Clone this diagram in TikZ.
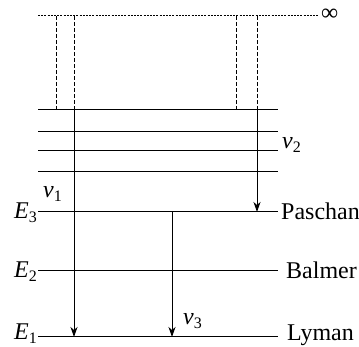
\documentclass[tikz,border=0pt]{standalone}
\usepackage{fontspec}
\setmainfont{Liberation Serif}
\usetikzlibrary{arrows.meta}
\newcommand{\lsub}[1]{\raisebox{-0.3ex}{\fontsize{16}{17}\selectfont #1}}
\begin{document}
\begin{tikzpicture}[x=1pt,y=-1pt,
  lvl/.style={line width=1pt},
  dsh/.style={line width=1pt, dash pattern=on 4pt off 2pt},
  dots/.style={line width=1pt, dash pattern=on 2pt off 1.2pt},
  arr/.style={line width=1pt, -{Stealth[length=10pt,width=7pt,inset=3pt]}},
  lbl/.style={inner sep=0pt, font=\fontsize{24}{26}\selectfont}]
\useasboundingbox (0,0) rectangle (359,347);
% infinity level
\coordinate (iL) at (38,16);
\coordinate (iR) at (318,16);
\draw[dots] (iL) -- (iR);
\node[lbl, anchor=west] (inf) at (321,15) {∞};
% upper levels
\foreach \y/\n in {110/a,132/b,151/c,172/d}{
  \coordinate (\n L) at (38,\y);
  \coordinate (\n R) at (278,\y);
  \draw[lvl] (\n L) -- (\n R);
}
% named levels
\coordinate (e3L) at (38,212); \coordinate (e3R) at (278,212);
\coordinate (e2L) at (38,271); \coordinate (e2R) at (278,271);
\coordinate (e1L) at (38,337); \coordinate (e1R) at (278,337);
\draw[lvl] (e3L) -- (e3R);
\draw[lvl] (e2L) -- (e2R);
\draw[lvl] (e1L) -- (e1R);
% dashed verticals
\coordinate (d1t) at (56,16);  \coordinate (d1b) at (56,110);
\coordinate (d2t) at (74,16);  \coordinate (d2b) at (74,110);
\coordinate (d3t) at (236,16); \coordinate (d3b) at (236,110);
\coordinate (d4t) at (257,16); \coordinate (d4b) at (257,110);
\draw[dsh] (d1t) -- (d1b);
\draw[dsh] (d2t) -- (d2b);
\draw[dsh] (d3t) -- (d3b);
\draw[dsh] (d4t) -- (d4b);
% transitions
\coordinate (t1b) at (74,337);
\coordinate (t2b) at (257,212);
\coordinate (t3t) at (172,212); \coordinate (t3b) at (172,337);
\draw[arr] (d2b) -- (t1b);
\draw[arr] (d4b) -- (t2b);
\draw[arr] (t3t) -- (t3b);
% labels
\node[lbl, anchor=base west] (nu1) at (43,198) {\textit{ν}\lsub{1}};
\node[lbl, anchor=base west] (nu2) at (282,149) {\textit{ν}\lsub{2}};
\node[lbl, anchor=base west] (nu3) at (183,325) {\textit{ν}\lsub{3}};
\node[lbl, anchor=base east] (E3) at (37,219) {\textit{E}\lsub{3}};
\node[lbl, anchor=base east] (E2) at (37,278) {\textit{E}\lsub{2}};
\node[lbl, anchor=base east] (E1) at (37,340) {\textit{E}\lsub{1}};
\node[lbl, anchor=base west] (pa) at (281,220) {Paschan};
\node[lbl, anchor=base west] (ba) at (286,279) {Balmer};
\node[lbl, anchor=base west] (ly) at (287,341) {Lyman};
\end{tikzpicture}
\end{document}
